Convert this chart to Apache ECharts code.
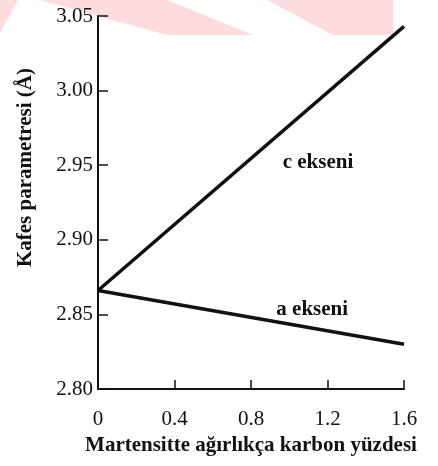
<html>
    <head>
        <meta charset="utf-8">
        <script src="https://cdn.jsdelivr.net/npm/echarts@6/dist/echarts.min.js"></script>
    </head>
    <body>
        <style>
            html, body, #main {
                width: 100%;
                height: 100%;
                margin: 0;
                background: #fff;
            }
        </style>
        <div id="main"></div>
        <script>
            // values
            var carbon = [0, 1.6];
            var cEkseni = [2.866, 3.043];
            var aEkseni = [2.866, 2.830];
            var cLabelAt = [1.15, 2.952];
            var aLabelAt = [1.12, 2.853];

            var serif = "'Liberation Serif', 'Times New Roman', serif";
            var ink = '#111';

            function pairs(xs, ys) {
                return xs.map(function (x, i) { return [x, ys[i]]; });
            }

            function note(text, at) {
                return {
                    symbol: 'circle',
                    symbolSize: 0,
                    silent: true,
                    label: {
                        show: true,
                        position: 'inside',
                        formatter: text,
                        color: ink,
                        fontFamily: serif,
                        fontWeight: 'bold',
                        fontSize: 21
                    },
                    data: [{ coord: at }]
                };
            }

            var chart = echarts.init(document.getElementById('main'));
            var option = {
                animation: false,
                backgroundColor: '#fff',
                // faint pink watermark strip along the top edge
                graphic: [
                    { type: 'polygon', z: -10, shape: { points: [[0, 0], [18, 0], [0, 33]] }, style: { fill: '#fcdcdc' } },
                    { type: 'polygon', z: -10, shape: { points: [[40, 0], [167, 0], [253, 35], [167, 35]] }, style: { fill: '#fcdcdc' } },
                    { type: 'polygon', z: -10, shape: { points: [[267, 0], [393, 0], [393, 35], [333, 35]] }, style: { fill: '#fcdcdc' } }
                ],
                grid: { left: 98, right: 34, top: 16, bottom: 77 },
                xAxis: {
                    type: 'value',
                    min: 0,
                    max: 1.6,
                    interval: 0.4,
                    name: 'Martensitte ağırlıkça karbon yüzdesi',
                    nameLocation: 'middle',
                    nameGap: 45,
                    nameTextStyle: { color: ink, fontFamily: serif, fontWeight: 'bold', fontSize: 21 },
                    axisLine: { lineStyle: { color: ink, width: 2 } },
                    axisTick: { inside: true, length: 9, lineStyle: { color: ink, width: 1.5 } },
                    axisLabel: { color: ink, fontFamily: serif, fontSize: 21, margin: 20 },
                    splitLine: { show: false }
                },
                yAxis: {
                    type: 'value',
                    min: 2.80,
                    max: 3.05,
                    interval: 0.05,
                    name: 'Kafes parametresi (Å)',
                    nameLocation: 'middle',
                    nameGap: 62,
                    nameTextStyle: { color: ink, fontFamily: serif, fontWeight: 'bold', fontSize: 21, padding: [0, 0, 0, 70] },
                    axisLine: { show: true, lineStyle: { color: ink, width: 2 } },
                    axisTick: { show: true, inside: true, length: 10, lineStyle: { color: ink, width: 1.5 } },
                    axisLabel: {
                        color: ink, fontFamily: serif, fontSize: 21, margin: 5,
                        formatter: function (v) { return v.toFixed(2); }
                    },
                    splitLine: { show: false }
                },
                series: [
                    {
                        name: 'c ekseni',
                        type: 'line',
                        showSymbol: false,
                        lineStyle: { color: ink, width: 3.5 },
                        data: pairs(carbon, cEkseni),
                        markPoint: note('c ekseni', cLabelAt)
                    },
                    {
                        name: 'a ekseni',
                        type: 'line',
                        showSymbol: false,
                        lineStyle: { color: ink, width: 3.5 },
                        data: pairs(carbon, aEkseni),
                        markPoint: note('a ekseni', aLabelAt)
                    }
                ]
            };
            chart.setOption(option);
            window.onresize = chart.resize;
        </script>
    </body>
</html>
